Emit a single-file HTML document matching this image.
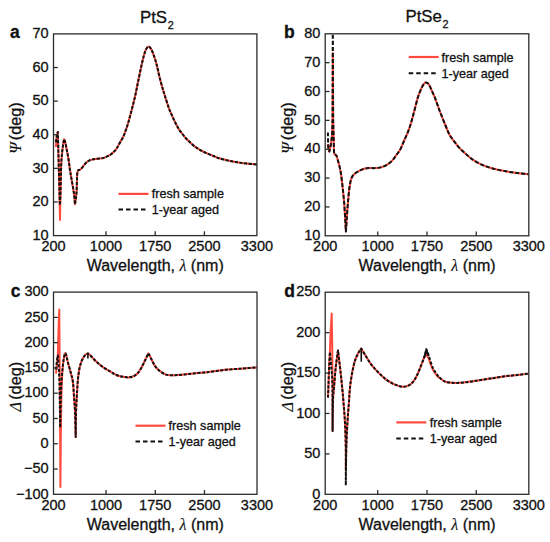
<!DOCTYPE html>
<html><head><meta charset="utf-8"><style>
html,body{margin:0;padding:0;background:#fff;}
svg{display:block;}
.t{font-family:"Liberation Sans",sans-serif;font-size:14.5px;fill:#111;stroke:#111;stroke-width:0.3px;}
.lab{font-family:"Liberation Sans",sans-serif;font-size:16px;fill:#111;stroke:#111;stroke-width:0.3px;}
.ylab{font-family:"Liberation Sans",sans-serif;font-size:16.3px;fill:#111;stroke:#111;stroke-width:0.3px;}
.gk{font-family:"Liberation Serif",serif;font-style:italic;stroke-width:0.1px;}
.ttl{font-family:"Liberation Sans",sans-serif;font-size:16.8px;fill:#111;stroke:#111;stroke-width:0.3px;}
.pl{font-family:"Liberation Sans",sans-serif;font-size:17.5px;font-weight:bold;fill:#111;stroke:#111;stroke-width:0.3px;}
.lg{font-family:"Liberation Sans",sans-serif;font-size:12.6px;fill:#111;stroke:#111;stroke-width:0.3px;}
</style></head><body>
<svg width="550" height="542" viewBox="0 0 550 542">
<rect width="550" height="542" fill="#fff"/>
<clipPath id="cla"><rect x="53.5" y="33.9" width="203.39999999999998" height="201.7"/></clipPath>
<path d="M55.90,147.00 C56.05,145.17 56.48,138.50 56.80,136.00 C57.12,133.50 57.63,132.67 57.80,132.00 C57.93,136.67 58.23,145.33 58.60,160.00 C58.97,174.67 59.77,210.00 60.00,220.00 C60.10,215.00 60.40,199.17 60.60,190.00 C60.80,180.83 60.90,171.67 61.20,165.00 C61.50,158.33 61.93,154.30 62.40,150.00 C62.87,145.70 63.73,141.00 64.00,139.20 C64.22,139.73 64.83,140.60 65.30,142.40 C65.77,144.20 66.28,147.32 66.80,150.00 C67.32,152.68 67.87,155.17 68.40,158.50 C68.93,161.83 69.48,166.58 70.00,170.00 C70.52,173.42 70.83,175.03 71.50,179.00 C72.17,182.97 73.42,189.58 74.00,193.80 C74.58,198.02 74.83,202.55 75.00,204.30 C75.25,202.35 76.15,197.32 76.50,192.60 C76.85,187.88 76.92,179.52 77.10,176.00 C77.28,172.48 77.52,172.25 77.60,171.50 C77.72,171.30 77.87,170.63 78.30,170.30 C78.73,169.97 79.52,170.00 80.20,169.50 C80.88,169.00 81.55,168.28 82.40,167.30 C83.25,166.32 84.32,164.65 85.30,163.60 C86.28,162.55 87.18,161.67 88.30,161.00 C89.42,160.33 90.53,159.97 92.00,159.60 C93.47,159.23 95.27,159.05 97.10,158.80 C98.93,158.55 101.40,158.47 103.00,158.10 C104.60,157.73 105.47,157.15 106.70,156.60 C107.93,156.05 109.17,155.65 110.40,154.80 C111.63,153.95 113.08,152.50 114.10,151.50 C115.12,150.50 115.58,150.18 116.50,148.80 C117.42,147.42 118.47,145.23 119.60,143.20 C120.73,141.17 122.25,138.82 123.30,136.60 C124.35,134.38 125.10,132.12 125.90,129.90 C126.70,127.68 127.38,125.70 128.10,123.30 C128.82,120.90 129.37,118.63 130.20,115.50 C131.03,112.37 132.18,108.17 133.10,104.50 C134.02,100.83 134.88,97.25 135.70,93.50 C136.52,89.75 137.10,86.37 138.00,82.00 C138.90,77.63 140.15,71.60 141.10,67.30 C142.05,63.00 142.90,59.15 143.70,56.20 C144.50,53.25 145.10,51.20 145.90,49.60 C146.70,48.00 147.65,46.72 148.50,46.60 C149.35,46.48 150.15,47.53 151.00,48.90 C151.85,50.27 152.67,52.22 153.60,54.80 C154.53,57.38 155.62,60.70 156.60,64.40 C157.58,68.10 158.47,72.90 159.50,77.00 C160.53,81.10 161.87,85.75 162.80,89.00 C163.73,92.25 164.10,93.33 165.10,96.50 C166.10,99.67 167.72,104.98 168.80,108.00 C169.88,111.02 170.57,112.27 171.60,114.60 C172.63,116.93 173.82,119.62 175.00,122.00 C176.18,124.38 177.47,126.90 178.70,128.90 C179.93,130.90 181.17,132.40 182.40,134.00 C183.63,135.60 184.87,137.15 186.10,138.50 C187.33,139.85 188.33,140.75 189.80,142.10 C191.27,143.45 193.07,145.23 194.90,146.60 C196.73,147.97 198.58,149.08 200.80,150.30 C203.02,151.52 205.83,152.85 208.20,153.90 C210.57,154.95 213.18,155.87 215.00,156.60 C216.82,157.33 216.90,157.63 219.10,158.30 C221.30,158.97 225.17,159.93 228.20,160.60 C231.23,161.27 234.27,161.82 237.30,162.30 C240.33,162.78 242.95,163.13 246.40,163.50 C249.85,163.87 256.07,164.33 258.00,164.50" fill="none" stroke="#ff4b3e" stroke-width="2.0" stroke-linejoin="round" clip-path="url(#cla)"/>
<path d="M55.90,142.40 C56.05,141.33 56.48,137.73 56.80,136.00 C57.12,134.27 57.63,132.67 57.80,132.00 C57.93,136.67 58.25,147.83 58.60,160.00 C58.95,172.17 59.68,197.50 59.90,205.00 C60.02,202.50 60.38,196.67 60.60,190.00 C60.82,183.33 60.90,171.67 61.20,165.00 C61.50,158.33 61.93,154.30 62.40,150.00 C62.87,145.70 63.73,141.00 64.00,139.20 C64.22,139.73 64.83,140.60 65.30,142.40 C65.77,144.20 66.28,147.32 66.80,150.00 C67.32,152.68 67.87,155.17 68.40,158.50 C68.93,161.83 69.48,166.58 70.00,170.00 C70.52,173.42 70.83,175.03 71.50,179.00 C72.17,182.97 73.42,189.58 74.00,193.80 C74.58,198.02 74.83,202.55 75.00,204.30 C75.25,202.35 76.15,197.32 76.50,192.60 C76.85,187.88 76.92,179.52 77.10,176.00 C77.28,172.48 77.52,172.25 77.60,171.50 C77.72,171.30 77.87,170.63 78.30,170.30 C78.73,169.97 79.52,170.00 80.20,169.50 C80.88,169.00 81.55,168.28 82.40,167.30 C83.25,166.32 84.32,164.65 85.30,163.60 C86.28,162.55 87.18,161.67 88.30,161.00 C89.42,160.33 90.53,159.97 92.00,159.60 C93.47,159.23 95.27,159.05 97.10,158.80 C98.93,158.55 101.40,158.47 103.00,158.10 C104.60,157.73 105.47,157.15 106.70,156.60 C107.93,156.05 109.17,155.65 110.40,154.80 C111.63,153.95 113.08,152.50 114.10,151.50 C115.12,150.50 115.58,150.18 116.50,148.80 C117.42,147.42 118.47,145.23 119.60,143.20 C120.73,141.17 122.25,138.82 123.30,136.60 C124.35,134.38 125.10,132.12 125.90,129.90 C126.70,127.68 127.38,125.70 128.10,123.30 C128.82,120.90 129.37,118.63 130.20,115.50 C131.03,112.37 132.18,108.17 133.10,104.50 C134.02,100.83 134.88,97.25 135.70,93.50 C136.52,89.75 137.10,86.37 138.00,82.00 C138.90,77.63 140.15,71.60 141.10,67.30 C142.05,63.00 142.90,59.15 143.70,56.20 C144.50,53.25 145.10,51.20 145.90,49.60 C146.70,48.00 147.65,46.72 148.50,46.60 C149.35,46.48 150.15,47.53 151.00,48.90 C151.85,50.27 152.67,52.22 153.60,54.80 C154.53,57.38 155.62,60.70 156.60,64.40 C157.58,68.10 158.47,72.90 159.50,77.00 C160.53,81.10 161.87,85.75 162.80,89.00 C163.73,92.25 164.10,93.33 165.10,96.50 C166.10,99.67 167.72,104.98 168.80,108.00 C169.88,111.02 170.57,112.27 171.60,114.60 C172.63,116.93 173.82,119.62 175.00,122.00 C176.18,124.38 177.47,126.90 178.70,128.90 C179.93,130.90 181.17,132.40 182.40,134.00 C183.63,135.60 184.87,137.15 186.10,138.50 C187.33,139.85 188.33,140.75 189.80,142.10 C191.27,143.45 193.07,145.23 194.90,146.60 C196.73,147.97 198.58,149.08 200.80,150.30 C203.02,151.52 205.83,152.85 208.20,153.90 C210.57,154.95 213.18,155.87 215.00,156.60 C216.82,157.33 216.90,157.63 219.10,158.30 C221.30,158.97 225.17,159.93 228.20,160.60 C231.23,161.27 234.27,161.82 237.30,162.30 C240.33,162.78 242.95,163.13 246.40,163.50 C249.85,163.87 256.07,164.33 258.00,164.50" fill="none" stroke="#111" stroke-width="2.0" stroke-dasharray="3.2 1.5" stroke-linejoin="round" clip-path="url(#cla)"/>
<rect x="53.5" y="33.9" width="203.39999999999998" height="201.7" fill="none" stroke="#2b2b2b" stroke-width="1.3"/>
<text x="48.7" y="239.80" text-anchor="end" class="t">10</text>
<line x1="53.5" y1="201.98" x2="57.8" y2="201.98" stroke="#2b2b2b" stroke-width="1.3"/>
<text x="48.7" y="206.18" text-anchor="end" class="t">20</text>
<line x1="53.5" y1="168.37" x2="57.8" y2="168.37" stroke="#2b2b2b" stroke-width="1.3"/>
<text x="48.7" y="172.57" text-anchor="end" class="t">30</text>
<line x1="53.5" y1="134.75" x2="57.8" y2="134.75" stroke="#2b2b2b" stroke-width="1.3"/>
<text x="48.7" y="138.95" text-anchor="end" class="t">40</text>
<line x1="53.5" y1="101.13" x2="57.8" y2="101.13" stroke="#2b2b2b" stroke-width="1.3"/>
<text x="48.7" y="105.33" text-anchor="end" class="t">50</text>
<line x1="53.5" y1="67.52" x2="57.8" y2="67.52" stroke="#2b2b2b" stroke-width="1.3"/>
<text x="48.7" y="71.72" text-anchor="end" class="t">60</text>
<text x="48.7" y="38.10" text-anchor="end" class="t">70</text>
<line x1="105.99" y1="235.6" x2="105.99" y2="231.29999999999998" stroke="#2b2b2b" stroke-width="1.3"/>
<line x1="155.20" y1="235.6" x2="155.20" y2="231.29999999999998" stroke="#2b2b2b" stroke-width="1.3"/>
<line x1="204.41" y1="235.6" x2="204.41" y2="231.29999999999998" stroke="#2b2b2b" stroke-width="1.3"/>
<text x="53.50" y="250.90" text-anchor="middle" class="t">200</text>
<text x="105.99" y="250.90" text-anchor="middle" class="t">1000</text>
<text x="155.20" y="250.90" text-anchor="middle" class="t">1750</text>
<text x="204.41" y="250.90" text-anchor="middle" class="t">2500</text>
<text x="256.90" y="250.90" text-anchor="middle" class="t">3300</text>
<text x="155.20" y="270.80" text-anchor="middle" class="lab">Wavelength, <tspan class="gk">λ</tspan> (nm)</text>
<clipPath id="clb"><rect x="325.2" y="33.8" width="203.59999999999997" height="202.0"/></clipPath>
<path d="M327.80,144.00 C327.88,144.50 328.05,145.75 328.30,147.00 C328.55,148.25 329.13,150.75 329.30,151.50 C329.48,150.77 330.03,149.07 330.40,147.10 C330.77,145.13 331.20,142.15 331.50,139.70 C331.80,137.25 332.02,137.35 332.20,132.40 C332.38,127.45 332.50,123.23 332.60,110.00 C332.70,96.77 332.77,62.50 332.80,53.00 C332.85,62.50 333.02,98.00 333.10,110.00 C333.18,122.00 333.20,120.05 333.30,125.00 C333.40,129.95 333.57,135.03 333.70,139.70 C333.83,144.37 333.85,150.53 334.10,153.00 C334.35,155.47 335.02,154.25 335.20,154.50 C335.43,154.75 336.18,155.13 336.60,156.00 C337.02,156.87 337.23,158.03 337.70,159.70 C338.17,161.37 338.85,163.62 339.40,166.00 C339.95,168.38 340.45,170.33 341.00,174.00 C341.55,177.67 342.18,183.32 342.70,188.00 C343.22,192.68 343.68,196.95 344.10,202.10 C344.52,207.25 344.90,214.00 345.20,218.90 C345.50,223.80 345.78,229.40 345.90,231.50 C346.07,228.93 346.55,221.00 346.90,216.10 C347.25,211.20 347.58,206.78 348.00,202.10 C348.42,197.42 348.82,191.98 349.40,188.00 C349.98,184.02 350.57,180.62 351.50,178.20 C352.43,175.78 353.65,174.77 355.00,173.50 C356.35,172.23 358.07,171.40 359.60,170.60 C361.13,169.80 362.67,169.12 364.20,168.70 C365.73,168.28 366.95,168.20 368.80,168.10 C370.65,168.00 373.30,168.22 375.30,168.10 C377.30,167.98 378.95,167.90 380.80,167.40 C382.65,166.90 384.55,166.18 386.40,165.10 C388.25,164.02 390.22,162.60 391.90,160.90 C393.58,159.20 395.07,156.88 396.50,154.90 C397.93,152.92 399.15,151.57 400.50,149.00 C401.85,146.43 403.37,142.32 404.60,139.50 C405.83,136.68 406.92,134.55 407.90,132.10 C408.88,129.65 409.73,127.20 410.50,124.80 C411.27,122.40 411.78,120.33 412.50,117.70 C413.22,115.07 413.93,112.30 414.80,109.00 C415.67,105.70 416.72,101.10 417.70,97.90 C418.68,94.70 419.72,92.07 420.70,89.80 C421.68,87.53 422.75,85.50 423.60,84.30 C424.45,83.10 424.93,82.60 425.80,82.60 C426.67,82.60 427.82,82.98 428.80,84.30 C429.78,85.62 430.72,88.35 431.70,90.50 C432.68,92.65 433.73,94.82 434.70,97.20 C435.67,99.58 436.57,102.25 437.50,104.80 C438.43,107.35 439.00,109.13 440.30,112.50 C441.60,115.87 443.77,121.30 445.30,125.00 C446.83,128.70 448.05,132.02 449.50,134.70 C450.95,137.38 452.40,138.95 454.00,141.10 C455.60,143.25 457.17,145.48 459.10,147.60 C461.03,149.72 463.40,151.85 465.60,153.80 C467.80,155.75 469.63,157.48 472.30,159.30 C474.97,161.12 478.35,163.22 481.60,164.70 C484.85,166.18 487.98,167.13 491.80,168.20 C495.62,169.27 500.25,170.30 504.50,171.10 C508.75,171.90 513.05,172.45 517.30,173.00 C521.55,173.55 527.88,174.17 530.00,174.40" fill="none" stroke="#ff4b3e" stroke-width="2.0" stroke-linejoin="round" clip-path="url(#clb)"/>
<path d="M327.90,132.40 C327.97,134.83 328.07,143.82 328.30,147.00 C328.53,150.18 329.13,150.75 329.30,151.50 C329.48,150.77 330.03,149.07 330.40,147.10 C330.77,145.13 331.20,142.15 331.50,139.70 C331.80,137.25 332.02,137.35 332.20,132.40 C332.38,127.45 332.50,130.40 332.60,110.00 C332.70,89.60 332.77,26.67 332.80,10.00 C332.85,26.67 333.02,90.83 333.10,110.00 C333.18,129.17 333.20,120.05 333.30,125.00 C333.40,129.95 333.57,135.03 333.70,139.70 C333.83,144.37 333.85,150.53 334.10,153.00 C334.35,155.47 335.02,154.25 335.20,154.50 C335.43,154.75 336.18,155.13 336.60,156.00 C337.02,156.87 337.23,158.03 337.70,159.70 C338.17,161.37 338.85,163.62 339.40,166.00 C339.95,168.38 340.45,170.33 341.00,174.00 C341.55,177.67 342.18,183.32 342.70,188.00 C343.22,192.68 343.68,196.95 344.10,202.10 C344.52,207.25 344.90,214.00 345.20,218.90 C345.50,223.80 345.78,229.40 345.90,231.50 C346.07,228.93 346.55,221.00 346.90,216.10 C347.25,211.20 347.58,206.78 348.00,202.10 C348.42,197.42 348.82,191.98 349.40,188.00 C349.98,184.02 350.57,180.62 351.50,178.20 C352.43,175.78 353.65,174.77 355.00,173.50 C356.35,172.23 358.07,171.40 359.60,170.60 C361.13,169.80 362.67,169.12 364.20,168.70 C365.73,168.28 366.95,168.20 368.80,168.10 C370.65,168.00 373.30,168.22 375.30,168.10 C377.30,167.98 378.95,167.90 380.80,167.40 C382.65,166.90 384.55,166.18 386.40,165.10 C388.25,164.02 390.22,162.60 391.90,160.90 C393.58,159.20 395.07,156.88 396.50,154.90 C397.93,152.92 399.15,151.57 400.50,149.00 C401.85,146.43 403.37,142.32 404.60,139.50 C405.83,136.68 406.92,134.55 407.90,132.10 C408.88,129.65 409.73,127.20 410.50,124.80 C411.27,122.40 411.78,120.33 412.50,117.70 C413.22,115.07 413.93,112.30 414.80,109.00 C415.67,105.70 416.72,101.10 417.70,97.90 C418.68,94.70 419.72,92.07 420.70,89.80 C421.68,87.53 422.75,85.50 423.60,84.30 C424.45,83.10 424.93,82.60 425.80,82.60 C426.67,82.60 427.82,82.98 428.80,84.30 C429.78,85.62 430.72,88.35 431.70,90.50 C432.68,92.65 433.73,94.82 434.70,97.20 C435.67,99.58 436.57,102.25 437.50,104.80 C438.43,107.35 439.00,109.13 440.30,112.50 C441.60,115.87 443.77,121.30 445.30,125.00 C446.83,128.70 448.05,132.02 449.50,134.70 C450.95,137.38 452.40,138.95 454.00,141.10 C455.60,143.25 457.17,145.48 459.10,147.60 C461.03,149.72 463.40,151.85 465.60,153.80 C467.80,155.75 469.63,157.48 472.30,159.30 C474.97,161.12 478.35,163.22 481.60,164.70 C484.85,166.18 487.98,167.13 491.80,168.20 C495.62,169.27 500.25,170.30 504.50,171.10 C508.75,171.90 513.05,172.45 517.30,173.00 C521.55,173.55 527.88,174.17 530.00,174.40" fill="none" stroke="#111" stroke-width="2.0" stroke-dasharray="4 2" stroke-linejoin="round" clip-path="url(#clb)"/>
<rect x="325.2" y="33.8" width="203.59999999999997" height="202.0" fill="none" stroke="#2b2b2b" stroke-width="1.3"/>
<text x="320.4" y="240.00" text-anchor="end" class="t">10</text>
<line x1="325.2" y1="206.94" x2="329.5" y2="206.94" stroke="#2b2b2b" stroke-width="1.3"/>
<text x="320.4" y="211.14" text-anchor="end" class="t">20</text>
<line x1="325.2" y1="178.09" x2="329.5" y2="178.09" stroke="#2b2b2b" stroke-width="1.3"/>
<text x="320.4" y="182.29" text-anchor="end" class="t">30</text>
<line x1="325.2" y1="149.23" x2="329.5" y2="149.23" stroke="#2b2b2b" stroke-width="1.3"/>
<text x="320.4" y="153.43" text-anchor="end" class="t">40</text>
<line x1="325.2" y1="120.37" x2="329.5" y2="120.37" stroke="#2b2b2b" stroke-width="1.3"/>
<text x="320.4" y="124.57" text-anchor="end" class="t">50</text>
<line x1="325.2" y1="91.51" x2="329.5" y2="91.51" stroke="#2b2b2b" stroke-width="1.3"/>
<text x="320.4" y="95.71" text-anchor="end" class="t">60</text>
<line x1="325.2" y1="62.66" x2="329.5" y2="62.66" stroke="#2b2b2b" stroke-width="1.3"/>
<text x="320.4" y="66.86" text-anchor="end" class="t">70</text>
<text x="320.4" y="38.00" text-anchor="end" class="t">80</text>
<line x1="377.74" y1="235.8" x2="377.74" y2="231.5" stroke="#2b2b2b" stroke-width="1.3"/>
<line x1="427.00" y1="235.8" x2="427.00" y2="231.5" stroke="#2b2b2b" stroke-width="1.3"/>
<line x1="476.26" y1="235.8" x2="476.26" y2="231.5" stroke="#2b2b2b" stroke-width="1.3"/>
<text x="325.20" y="251.10" text-anchor="middle" class="t">200</text>
<text x="377.74" y="251.10" text-anchor="middle" class="t">1000</text>
<text x="427.00" y="251.10" text-anchor="middle" class="t">1750</text>
<text x="476.26" y="251.10" text-anchor="middle" class="t">2500</text>
<text x="528.80" y="251.10" text-anchor="middle" class="t">3300</text>
<text x="427.00" y="271.00" text-anchor="middle" class="lab">Wavelength, <tspan class="gk">λ</tspan> (nm)</text>
<clipPath id="clc"><rect x="53.5" y="292.1" width="203.5" height="202.2"/></clipPath>
<path d="M56.00,373.60 C56.17,372.00 56.70,366.93 57.00,364.00 C57.30,361.07 57.67,357.33 57.80,356.00 C57.92,351.67 58.25,337.73 58.50,330.00 C58.75,322.27 59.17,313.00 59.30,309.60 C59.40,324.67 59.72,370.43 59.90,400.00 C60.08,429.57 60.32,472.50 60.40,487.00 C60.47,479.17 60.65,454.50 60.80,440.00 C60.95,425.50 61.07,410.83 61.30,400.00 C61.53,389.17 61.87,381.32 62.20,375.00 C62.53,368.68 62.92,365.43 63.30,362.10 C63.68,358.77 64.13,356.47 64.50,355.00 C64.87,353.53 65.15,353.05 65.50,353.30 C65.85,353.55 66.22,355.03 66.60,356.50 C66.98,357.97 67.12,359.43 67.80,362.10 C68.48,364.77 69.85,369.18 70.70,372.50 C71.55,375.82 72.35,377.98 72.90,382.00 C73.45,386.02 73.63,391.40 74.00,396.60 C74.37,401.80 74.82,406.47 75.10,413.20 C75.38,419.93 75.60,433.03 75.70,437.00 C75.75,433.03 75.82,419.93 76.00,413.20 C76.18,406.47 76.55,401.30 76.80,396.60 C77.05,391.90 77.27,388.28 77.50,385.00 C77.73,381.72 77.85,379.78 78.20,376.90 C78.55,374.02 78.98,370.47 79.60,367.70 C80.22,364.93 80.98,362.38 81.90,360.30 C82.82,358.22 84.10,356.35 85.10,355.20 C86.10,354.05 87.43,353.70 87.90,353.40 C88.37,353.78 89.62,354.63 90.70,355.70 C91.78,356.77 93.02,358.42 94.40,359.80 C95.78,361.18 97.32,362.62 99.00,364.00 C100.68,365.38 102.65,366.87 104.50,368.10 C106.35,369.33 108.42,370.40 110.10,371.40 C111.78,372.40 113.08,373.33 114.60,374.10 C116.12,374.87 117.67,375.53 119.20,376.00 C120.73,376.47 122.25,376.67 123.80,376.90 C125.35,377.13 126.95,377.48 128.50,377.40 C130.05,377.32 131.57,377.10 133.10,376.40 C134.63,375.70 136.32,374.65 137.70,373.20 C139.08,371.75 140.17,369.85 141.40,367.70 C142.63,365.55 143.95,362.68 145.10,360.30 C146.25,357.92 147.77,354.55 148.30,353.40 C148.68,354.08 149.60,355.58 150.60,357.50 C151.60,359.42 152.98,362.82 154.30,364.90 C155.62,366.98 156.57,368.38 158.50,370.00 C160.43,371.62 163.22,373.73 165.90,374.60 C168.58,375.47 171.68,375.20 174.60,375.20 C177.52,375.20 180.30,374.88 183.40,374.60 C186.50,374.32 189.75,373.85 193.20,373.50 C196.65,373.15 201.30,372.78 204.10,372.50 C206.90,372.22 207.50,372.12 210.00,371.80 C212.50,371.48 216.07,370.98 219.10,370.60 C222.13,370.22 225.17,369.78 228.20,369.50 C231.23,369.22 234.27,369.12 237.30,368.90 C240.33,368.68 242.95,368.45 246.40,368.20 C249.85,367.95 256.07,367.53 258.00,367.40" fill="none" stroke="#ff4b3e" stroke-width="2.0" stroke-linejoin="round" clip-path="url(#clc)"/>
<path d="M56.00,369.50 C56.17,367.92 56.70,362.33 57.00,360.00 C57.30,357.67 57.67,356.25 57.80,355.50 C57.98,357.83 58.60,363.75 58.90,369.50 C59.20,375.25 59.38,380.32 59.60,390.00 C59.82,399.68 60.10,421.33 60.20,427.60 C60.30,423.00 60.62,407.10 60.80,400.00 C60.98,392.90 61.07,389.67 61.30,385.00 C61.53,380.33 61.87,375.82 62.20,372.00 C62.53,368.18 62.92,364.93 63.30,362.10 C63.68,359.27 64.13,356.47 64.50,355.00 C64.87,353.53 65.15,353.05 65.50,353.30 C65.85,353.55 66.22,355.03 66.60,356.50 C66.98,357.97 67.12,359.43 67.80,362.10 C68.48,364.77 69.85,369.18 70.70,372.50 C71.55,375.82 72.35,377.98 72.90,382.00 C73.45,386.02 73.63,391.40 74.00,396.60 C74.37,401.80 74.82,406.47 75.10,413.20 C75.38,419.93 75.60,433.03 75.70,437.00 C75.75,433.03 75.82,419.93 76.00,413.20 C76.18,406.47 76.55,401.30 76.80,396.60 C77.05,391.90 77.27,388.28 77.50,385.00 C77.73,381.72 77.85,379.78 78.20,376.90 C78.55,374.02 78.98,370.47 79.60,367.70 C80.22,364.93 80.98,362.38 81.90,360.30 C82.82,358.22 84.10,356.35 85.10,355.20 C86.10,354.05 87.43,353.70 87.90,353.40 C88.37,353.78 89.62,354.63 90.70,355.70 C91.78,356.77 93.02,358.42 94.40,359.80 C95.78,361.18 97.32,362.62 99.00,364.00 C100.68,365.38 102.65,366.87 104.50,368.10 C106.35,369.33 108.42,370.40 110.10,371.40 C111.78,372.40 113.08,373.33 114.60,374.10 C116.12,374.87 117.67,375.53 119.20,376.00 C120.73,376.47 122.25,376.67 123.80,376.90 C125.35,377.13 126.95,377.48 128.50,377.40 C130.05,377.32 131.57,377.10 133.10,376.40 C134.63,375.70 136.32,374.65 137.70,373.20 C139.08,371.75 140.17,369.85 141.40,367.70 C142.63,365.55 143.95,362.68 145.10,360.30 C146.25,357.92 147.77,354.55 148.30,353.40 C148.68,354.08 149.60,355.58 150.60,357.50 C151.60,359.42 152.98,362.82 154.30,364.90 C155.62,366.98 156.57,368.38 158.50,370.00 C160.43,371.62 163.22,373.73 165.90,374.60 C168.58,375.47 171.68,375.20 174.60,375.20 C177.52,375.20 180.30,374.88 183.40,374.60 C186.50,374.32 189.75,373.85 193.20,373.50 C196.65,373.15 201.30,372.78 204.10,372.50 C206.90,372.22 207.50,372.12 210.00,371.80 C212.50,371.48 216.07,370.98 219.10,370.60 C222.13,370.22 225.17,369.78 228.20,369.50 C231.23,369.22 234.27,369.12 237.30,368.90 C240.33,368.68 242.95,368.45 246.40,368.20 C249.85,367.95 256.07,367.53 258.00,367.40" fill="none" stroke="#111" stroke-width="2.0" stroke-dasharray="3 1.6" stroke-linejoin="round" clip-path="url(#clc)"/>
<rect x="53.5" y="292.1" width="203.5" height="202.2" fill="none" stroke="#2b2b2b" stroke-width="1.3"/>
<text x="48.7" y="498.50" text-anchor="end" class="t">−100</text>
<line x1="53.5" y1="469.03" x2="57.8" y2="469.03" stroke="#2b2b2b" stroke-width="1.3"/>
<text x="48.7" y="473.23" text-anchor="end" class="t">−50</text>
<line x1="53.5" y1="443.75" x2="57.8" y2="443.75" stroke="#2b2b2b" stroke-width="1.3"/>
<text x="48.7" y="447.95" text-anchor="end" class="t">0</text>
<line x1="53.5" y1="418.48" x2="57.8" y2="418.48" stroke="#2b2b2b" stroke-width="1.3"/>
<text x="48.7" y="422.68" text-anchor="end" class="t">50</text>
<line x1="53.5" y1="393.20" x2="57.8" y2="393.20" stroke="#2b2b2b" stroke-width="1.3"/>
<text x="48.7" y="397.40" text-anchor="end" class="t">100</text>
<line x1="53.5" y1="367.93" x2="57.8" y2="367.93" stroke="#2b2b2b" stroke-width="1.3"/>
<text x="48.7" y="372.12" text-anchor="end" class="t">150</text>
<line x1="53.5" y1="342.65" x2="57.8" y2="342.65" stroke="#2b2b2b" stroke-width="1.3"/>
<text x="48.7" y="346.85" text-anchor="end" class="t">200</text>
<line x1="53.5" y1="317.38" x2="57.8" y2="317.38" stroke="#2b2b2b" stroke-width="1.3"/>
<text x="48.7" y="321.57" text-anchor="end" class="t">250</text>
<text x="48.7" y="296.30" text-anchor="end" class="t">300</text>
<line x1="106.02" y1="494.3" x2="106.02" y2="490.0" stroke="#2b2b2b" stroke-width="1.3"/>
<line x1="155.25" y1="494.3" x2="155.25" y2="490.0" stroke="#2b2b2b" stroke-width="1.3"/>
<line x1="204.48" y1="494.3" x2="204.48" y2="490.0" stroke="#2b2b2b" stroke-width="1.3"/>
<text x="53.50" y="509.60" text-anchor="middle" class="t">200</text>
<text x="106.02" y="509.60" text-anchor="middle" class="t">1000</text>
<text x="155.25" y="509.60" text-anchor="middle" class="t">1750</text>
<text x="204.48" y="509.60" text-anchor="middle" class="t">2500</text>
<text x="257.00" y="509.60" text-anchor="middle" class="t">3300</text>
<text x="155.25" y="529.50" text-anchor="middle" class="lab">Wavelength, <tspan class="gk">λ</tspan> (nm)</text>
<clipPath id="cld"><rect x="325.2" y="292.2" width="203.59999999999997" height="202.10000000000002"/></clipPath>
<path d="M328.00,397.60 C328.08,395.38 328.32,389.28 328.50,384.30 C328.68,379.32 328.87,373.05 329.10,367.70 C329.33,362.35 329.77,354.78 329.90,352.20 C330.00,349.33 330.20,341.45 330.50,335.00 C330.80,328.55 331.50,317.08 331.70,313.50 C331.78,318.75 332.07,333.25 332.20,345.00 C332.33,356.75 332.43,369.67 332.50,384.00 C332.57,398.33 332.58,423.17 332.60,431.00 C332.67,425.83 332.75,407.42 333.00,400.00 C333.25,392.58 333.65,391.88 334.10,386.50 C334.55,381.12 335.05,373.70 335.70,367.70 C336.35,361.70 337.62,353.37 338.00,350.50 C338.45,354.28 339.97,366.65 340.70,373.20 C341.43,379.75 341.97,385.33 342.40,389.80 C342.83,394.27 342.88,394.75 343.30,400.00 C343.72,405.25 344.48,413.37 344.90,421.30 C345.32,429.23 345.65,439.72 345.80,447.60 C345.95,455.48 345.80,465.10 345.80,468.60 C345.88,465.10 346.02,455.48 346.30,447.60 C346.58,439.72 347.03,429.23 347.50,421.30 C347.97,413.37 348.77,404.72 349.10,400.00 C349.43,395.28 349.25,395.90 349.50,393.00 C349.75,390.10 350.08,386.37 350.60,382.60 C351.12,378.83 351.85,374.12 352.60,370.40 C353.35,366.68 354.17,363.17 355.10,360.30 C356.03,357.43 357.18,355.15 358.20,353.20 C359.22,351.25 360.70,349.37 361.20,348.60 C361.88,349.70 363.77,352.75 365.30,355.20 C366.83,357.65 368.72,360.93 370.40,363.30 C372.08,365.67 373.55,367.37 375.40,369.40 C377.25,371.43 379.47,373.63 381.50,375.50 C383.53,377.37 385.33,379.08 387.60,380.60 C389.87,382.12 392.67,383.58 395.10,384.60 C397.53,385.62 400.00,386.52 402.20,386.70 C404.40,386.88 406.45,386.55 408.30,385.70 C410.15,384.85 411.78,383.47 413.30,381.60 C414.82,379.73 416.03,377.37 417.40,374.50 C418.77,371.63 420.32,367.40 421.50,364.40 C422.68,361.40 423.75,358.20 424.50,356.50 C425.25,354.80 425.75,354.58 426.00,354.20 C426.43,354.92 427.50,356.03 428.60,358.50 C429.70,360.97 431.08,366.00 432.60,369.00 C434.12,372.00 436.47,375.00 437.70,376.50 C438.93,378.00 438.87,377.18 440.00,378.00 C441.13,378.82 442.98,380.65 444.50,381.40 C446.02,382.15 447.12,382.25 449.10,382.50 C451.08,382.75 453.98,382.90 456.40,382.90 C458.82,382.90 461.03,382.75 463.60,382.50 C466.17,382.25 468.92,381.82 471.80,381.40 C474.68,380.98 477.87,380.47 480.90,380.00 C483.93,379.53 487.80,378.93 490.00,378.60 C492.20,378.27 491.90,378.35 494.10,378.00 C496.30,377.65 500.17,376.92 503.20,376.50 C506.23,376.08 509.27,375.83 512.30,375.50 C515.33,375.17 518.45,374.85 521.40,374.50 C524.35,374.15 528.57,373.58 530.00,373.40" fill="none" stroke="#ff4b3e" stroke-width="2.0" stroke-linejoin="round" clip-path="url(#cld)"/>
<path d="M328.00,397.60 C328.08,395.38 328.32,389.28 328.50,384.30 C328.68,379.32 328.87,373.05 329.10,367.70 C329.33,362.35 329.77,354.78 329.90,352.20 C330.13,354.78 330.88,362.35 331.30,367.70 C331.72,373.05 332.18,373.75 332.40,384.30 C332.62,394.85 332.57,423.22 332.60,431.00 C332.67,425.83 332.75,407.42 333.00,400.00 C333.25,392.58 333.65,391.88 334.10,386.50 C334.55,381.12 335.05,373.70 335.70,367.70 C336.35,361.70 337.62,353.37 338.00,350.50 C338.45,354.28 339.97,366.65 340.70,373.20 C341.43,379.75 341.97,385.33 342.40,389.80 C342.83,394.27 342.88,394.75 343.30,400.00 C343.72,405.25 344.48,413.37 344.90,421.30 C345.32,429.23 345.65,436.93 345.80,447.60 C345.95,458.27 345.80,479.02 345.80,485.30 C345.88,479.02 346.02,458.27 346.30,447.60 C346.58,436.93 347.03,429.23 347.50,421.30 C347.97,413.37 348.77,404.72 349.10,400.00 C349.43,395.28 349.25,395.90 349.50,393.00 C349.75,390.10 350.08,386.37 350.60,382.60 C351.12,378.83 351.85,374.12 352.60,370.40 C353.35,366.68 354.17,363.17 355.10,360.30 C356.03,357.43 357.18,355.15 358.20,353.20 C359.22,351.25 360.70,349.37 361.20,348.60 C361.88,349.70 363.77,352.75 365.30,355.20 C366.83,357.65 368.72,360.93 370.40,363.30 C372.08,365.67 373.55,367.37 375.40,369.40 C377.25,371.43 379.47,373.63 381.50,375.50 C383.53,377.37 385.33,379.08 387.60,380.60 C389.87,382.12 392.67,383.58 395.10,384.60 C397.53,385.62 400.00,386.52 402.20,386.70 C404.40,386.88 406.45,386.55 408.30,385.70 C410.15,384.85 411.78,383.47 413.30,381.60 C414.82,379.73 416.03,377.37 417.40,374.50 C418.77,371.63 420.32,367.40 421.50,364.40 C422.68,361.40 423.70,359.05 424.50,356.50 C425.30,353.95 426.00,350.33 426.30,349.10 C426.68,350.12 427.55,352.15 428.60,355.20 C429.65,358.25 431.08,364.02 432.60,367.40 C434.12,370.78 436.47,373.73 437.70,375.50 C438.93,377.27 438.87,377.02 440.00,378.00 C441.13,378.98 442.98,380.65 444.50,381.40 C446.02,382.15 447.12,382.25 449.10,382.50 C451.08,382.75 453.98,382.90 456.40,382.90 C458.82,382.90 461.03,382.75 463.60,382.50 C466.17,382.25 468.92,381.82 471.80,381.40 C474.68,380.98 477.87,380.47 480.90,380.00 C483.93,379.53 487.80,378.93 490.00,378.60 C492.20,378.27 491.90,378.35 494.10,378.00 C496.30,377.65 500.17,376.92 503.20,376.50 C506.23,376.08 509.27,375.83 512.30,375.50 C515.33,375.17 518.45,374.85 521.40,374.50 C524.35,374.15 528.57,373.58 530.00,373.40" fill="none" stroke="#111" stroke-width="2.0" stroke-dasharray="3 1.6" stroke-linejoin="round" clip-path="url(#cld)"/>
<rect x="325.2" y="292.2" width="203.59999999999997" height="202.10000000000002" fill="none" stroke="#2b2b2b" stroke-width="1.3"/>
<text x="320.4" y="498.50" text-anchor="end" class="t">0</text>
<line x1="325.2" y1="453.88" x2="329.5" y2="453.88" stroke="#2b2b2b" stroke-width="1.3"/>
<text x="320.4" y="458.08" text-anchor="end" class="t">50</text>
<line x1="325.2" y1="413.46" x2="329.5" y2="413.46" stroke="#2b2b2b" stroke-width="1.3"/>
<text x="320.4" y="417.66" text-anchor="end" class="t">100</text>
<line x1="325.2" y1="373.04" x2="329.5" y2="373.04" stroke="#2b2b2b" stroke-width="1.3"/>
<text x="320.4" y="377.24" text-anchor="end" class="t">150</text>
<line x1="325.2" y1="332.62" x2="329.5" y2="332.62" stroke="#2b2b2b" stroke-width="1.3"/>
<text x="320.4" y="336.82" text-anchor="end" class="t">200</text>
<text x="320.4" y="296.40" text-anchor="end" class="t">250</text>
<line x1="377.74" y1="494.3" x2="377.74" y2="490.0" stroke="#2b2b2b" stroke-width="1.3"/>
<line x1="427.00" y1="494.3" x2="427.00" y2="490.0" stroke="#2b2b2b" stroke-width="1.3"/>
<line x1="476.26" y1="494.3" x2="476.26" y2="490.0" stroke="#2b2b2b" stroke-width="1.3"/>
<text x="325.20" y="509.60" text-anchor="middle" class="t">200</text>
<text x="377.74" y="509.60" text-anchor="middle" class="t">1000</text>
<text x="427.00" y="509.60" text-anchor="middle" class="t">1750</text>
<text x="476.26" y="509.60" text-anchor="middle" class="t">2500</text>
<text x="528.80" y="509.60" text-anchor="middle" class="t">3300</text>
<text x="427.00" y="529.50" text-anchor="middle" class="lab">Wavelength, <tspan class="gk">λ</tspan> (nm)</text>
<line x1="87.9" y1="353.4" x2="87.9" y2="358.5" stroke="#111" stroke-width="1.6"/>
<line x1="361.2" y1="348.6" x2="361.3" y2="361.8" stroke="#111" stroke-width="1.6"/>
<polyline points="424.3,357.5 426.3,350.2 428.5,356" fill="none" stroke="#111" stroke-width="2" stroke-linejoin="round"/>
<text transform="translate(20.8,128) rotate(-90)" text-anchor="middle" class="ylab"><tspan class="gk">Ψ</tspan><tspan dx="2">(deg)</tspan></text>
<text transform="translate(293,128) rotate(-90)" text-anchor="middle" class="ylab"><tspan class="gk">Ψ</tspan><tspan dx="2">(deg)</tspan></text>
<text transform="translate(20.8,386.6) rotate(-90)" text-anchor="middle" class="ylab"><tspan class="gk">Δ</tspan><tspan dx="2">(deg)</tspan></text>
<text transform="translate(293,386.6) rotate(-90)" text-anchor="middle" class="ylab"><tspan class="gk">Δ</tspan><tspan dx="2">(deg)</tspan></text>
<text x="140" y="23" class="ttl">PtS<tspan dx="0.6" dy="5.8" font-size="10.8">2</tspan></text>
<text x="405.5" y="22.2" class="ttl">PtSe<tspan dx="0.6" dy="5.8" font-size="10.8">2</tspan></text>
<text x="10" y="37.7" class="pl">a</text>
<text x="284" y="37.7" class="pl">b</text>
<text x="10.8" y="297" class="pl">c</text>
<text x="284.3" y="297.1" class="pl">d</text>
<line x1="118.5" y1="193.9" x2="148.5" y2="193.9" stroke="#ff4b3e" stroke-width="2.2"/>
<line x1="118.5" y1="209.5" x2="145.5" y2="209.5" stroke="#111" stroke-width="2" stroke-dasharray="4.5 3"/>
<text x="151.8" y="198.4" class="lg">fresh sample</text>
<text x="151.8" y="214.0" class="lg">1-year aged</text>
<line x1="408.7" y1="57" x2="438.7" y2="57" stroke="#ff4b3e" stroke-width="2.2"/>
<line x1="408.7" y1="73.2" x2="435.7" y2="73.2" stroke="#111" stroke-width="2" stroke-dasharray="4.5 3"/>
<text x="441.5" y="61.5" class="lg">fresh sample</text>
<text x="441.5" y="77.7" class="lg">1-year aged</text>
<line x1="135.5" y1="425.7" x2="165.5" y2="425.7" stroke="#ff4b3e" stroke-width="2.2"/>
<line x1="135.5" y1="441.6" x2="162.5" y2="441.6" stroke="#111" stroke-width="2" stroke-dasharray="4.5 3"/>
<text x="168.6" y="430.2" class="lg">fresh sample</text>
<text x="168.6" y="446.1" class="lg">1-year aged</text>
<line x1="396.3" y1="422.4" x2="426.3" y2="422.4" stroke="#ff4b3e" stroke-width="2.2"/>
<line x1="396.3" y1="438.4" x2="423.3" y2="438.4" stroke="#111" stroke-width="2" stroke-dasharray="4.5 3"/>
<text x="429.7" y="426.9" class="lg">fresh sample</text>
<text x="429.7" y="442.9" class="lg">1-year aged</text>
</svg></body></html>
